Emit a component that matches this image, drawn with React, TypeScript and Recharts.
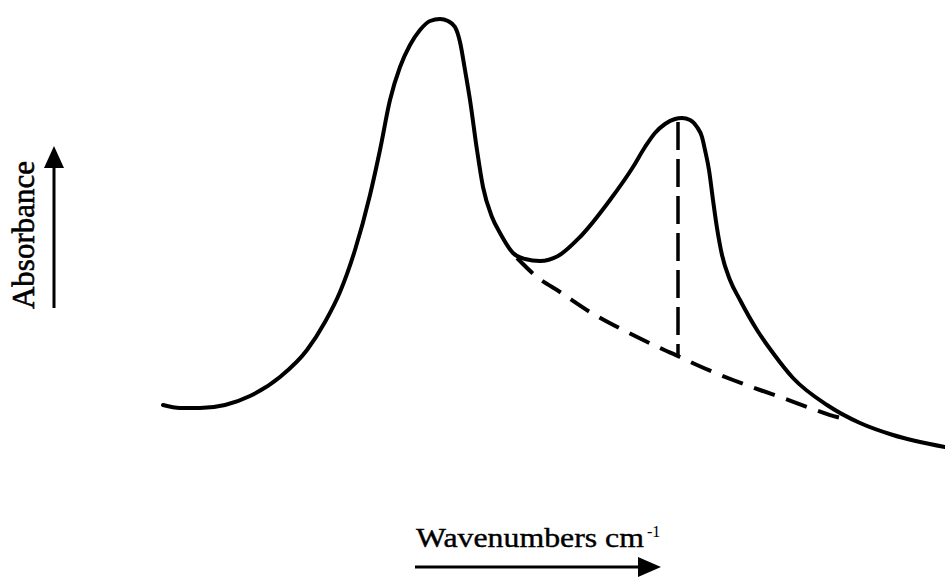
import React from 'react'
import { ComposedChart, Line, XAxis, YAxis, ReferenceLine } from 'recharts'

// spectrum trace (arbitrary units, x grows to the right)
const wavenumbers = [
  163, 180, 200, 225, 250, 280, 307, 325, 340, 355, 370, 380, 390, 400, 410, 420, 430, 440, 448,
  455, 460, 465, 470, 477, 483, 492, 500, 513, 525, 540, 558, 580, 610, 633, 645, 655, 665, 675,
  682, 690, 697, 702, 705, 709, 713, 717, 722, 730, 740, 757, 773, 793, 827, 860, 893, 945,
]
const absorbance = [
  174, 171, 171, 174, 183, 202, 229, 257, 287, 329, 384, 429, 479, 512, 534, 549, 558, 560, 558,
  552, 537, 509, 479, 429, 392, 362, 346, 326, 320, 318, 323, 342, 379, 412, 432, 446, 455, 460,
  461, 459, 452, 442, 429, 409, 379, 351, 324, 299, 279, 249, 226, 201, 174, 156, 144, 132,
]

// baseline drawn under the second band
const baselineX = [517, 537, 560, 590, 625, 660, 680, 697, 733, 760, 783, 813, 837, 850]
const baselineY = [321, 302, 287, 267, 248, 231, 222, 214, 199, 189, 181, 170, 162, 159]

// peak height marker
const peakX = 678
const peakTop = 457
const peakBase = 223

const spectrum = wavenumbers.map((x, i) => ({ x, a: absorbance[i] }))
const baseline = baselineX.map((x, i) => ({ x, b: baselineY[i] }))

const W = 945
const H = 579
const serif = '"Liberation Serif", "Times New Roman", serif'

const App: React.FC = () => {
  return (
    <div style={{ position: 'absolute', left: 0, top: 0, width: W, height: H, background: '#fff' }}>
      <ComposedChart width={W} height={H} margin={{ top: 0, right: 0, left: 0, bottom: 0 }}>
        <XAxis type="number" dataKey="x" domain={[0, W]} hide allowDataOverflow />
        <YAxis type="number" domain={[0, H]} hide allowDataOverflow />
        <Line
          data={spectrum}
          type="monotone"
          dataKey="a"
          stroke="#000"
          strokeWidth={4}
          strokeLinecap="round"
          dot={false}
          activeDot={false}
          isAnimationActive={false}
        />
        <Line
          data={baseline}
          type="monotone"
          dataKey="b"
          stroke="#000"
          strokeWidth={4}
          strokeDasharray="22 12"
          dot={false}
          activeDot={false}
          isAnimationActive={false}
        />
        <ReferenceLine
          segment={[
            { x: peakX, y: peakTop },
            { x: peakX, y: peakBase },
          ]}
          stroke="#000"
          strokeWidth={3.5}
          strokeDasharray="28 9"
          ifOverflow="visible"
        />
      </ComposedChart>

      <svg width={W} height={H} style={{ position: 'absolute', left: 0, top: 0, pointerEvents: 'none' }}>
        {/* y label with arrow */}
        <text
          x={34}
          y={235}
          transform="rotate(-90, 34, 235)"
          textAnchor="middle"
          fontFamily={serif}
          fontSize={31}
          fill="#000"
          stroke="#000"
          strokeWidth={0.6}
        >
          Absorbance
        </text>
        <line x1={54} y1={308} x2={54} y2={162} stroke="#000" strokeWidth={3} />
        <polygon points="54,146 44,168 64,168" fill="#000" />

        {/* x label with arrow */}
        <text
          x={416}
          y={547}
          fontFamily={serif}
          fontSize={28}
          fill="#000"
          stroke="#000"
          strokeWidth={0.4}
          textLength={228}
          lengthAdjust="spacingAndGlyphs"
        >
          Wavenumbers cm
        </text>
        <text x={647} y={537} fontFamily={serif} fontSize={16} fill="#000">
          -1
        </text>
        <line x1={415} y1={567} x2={642} y2={567} stroke="#000" strokeWidth={3} />
        <polygon points="661,567 638,557 638,577" fill="#000" />
      </svg>
    </div>
  )
}

export default App
